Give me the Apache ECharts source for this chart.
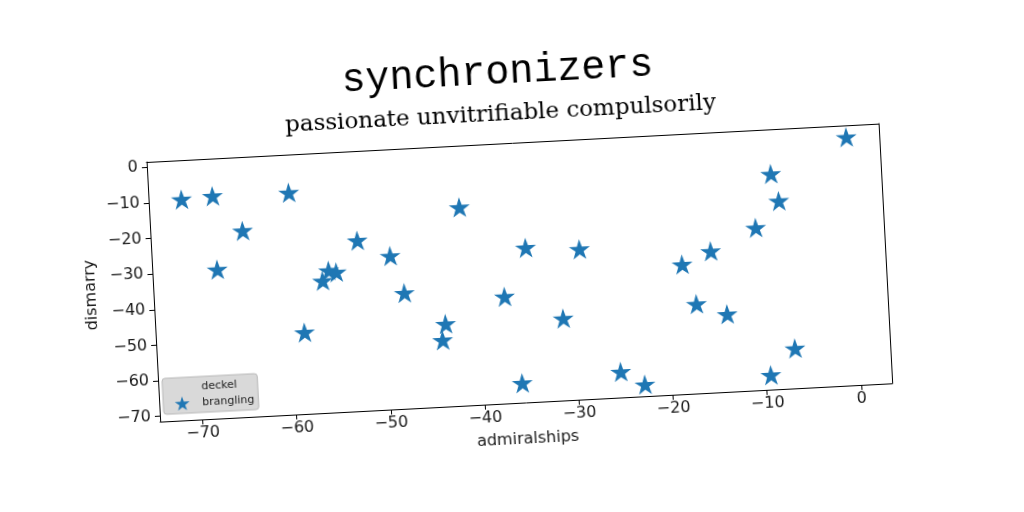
<!DOCTYPE html>
<html>
<head>
<meta charset="utf-8">
<script src="https://cdn.jsdelivr.net/npm/echarts@6/dist/echarts.min.js"></script>
<style>
html,body{margin:0;padding:0;background:#fff;overflow:hidden;}
#chart{width:1024px;height:512px;transform:rotate(-3deg);transform-origin:512px 256px;}
</style>
</head>
<body>
<div id="chart"></div>
<script>
const titleText = 'synchronizers';
const subtitleText = 'passionate unvitrifiable compulsorily';
const xName = 'admiralships';
const yName = 'dismarry';
const seriesNames = ['deckel', 'brangling'];
const xTicks = [-70, -60, -50, -40, -30, -20, -10, 0];
const yTicks = [-70, -60, -50, -40, -30, -20, -10, 0];
const branglingX = [-71.0, -67.7, -59.6, -64.7, -67.6, -55.8, -55.0, -56.5, -58.7, -41.6, -52.6, -49.2, -47.9, -43.7, -44.1, -34.8, -29.1, -37.3, -31.2, -35.9, -25.4, -22.9, -0.2, -8.4, -7.7, -10.3, -15.2, -18.3, -17.0, -13.8, -6.8, -9.5];
const branglingY = [-9.5, -9.0, -9.2, -19.2, -29.7, -31.6, -32.2, -34.4, -48.6, -15.8, -23.6, -28.4, -39.0, -48.3, -52.8, -28.1, -29.3, -41.5, -48.5, -66.0, -64.3, -68.2, -1.8, -11.0, -18.7, -25.9, -31.8, -35.1, -46.4, -49.7, -60.3, -67.4];

// star symbol shape (matplotlib-like '*')
function starPath() {
  const pts = [];
  for (let i = 0; i < 10; i++) {
    const r = i % 2 === 0 ? 1 : 0.381966;
    const a = Math.PI / 2 + i * Math.PI / 5;
    pts.push((r * Math.cos(a)).toFixed(4) + ',' + (-r * Math.sin(a)).toFixed(4));
  }
  return 'path://M' + pts.join('L') + 'Z';
}
const STAR = starPath();
const minus = v => String(v).replace('-', '\u2212');
const X_MIN = -74.5, X_MAX = 3.3, Y_MIN = -71.5, Y_MAX = 1.5;
const labelFont = {fontFamily: 'DejaVu Sans', fontSize: 16, color: '#1a1a1a'};
const frameAxis = {
  axisLine: {show: true, onZero: false, lineStyle: {color: '#000', width: 1}},
  axisTick: {show: false}, axisLabel: {show: false}, splitLine: {show: false}
};

const chart = echarts.init(document.getElementById('chart'), null, {renderer: 'canvas'});
chart.setOption({
  backgroundColor: '#fff',
  animation: false,
  graphic: [
    {type: 'text', x: 507, y: 72, style: {text: titleText, font: '40px "Liberation Mono"', fill: '#000', align: 'center', verticalAlign: 'middle'}},
    {type: 'text', x: 508, y: 114, style: {text: subtitleText, font: '23px "DejaVu Serif"', fill: '#000', align: 'center', verticalAlign: 'middle'}}
  ],
  grid: {left: 152, right: 139, top: 143, bottom: 109, show: false},
  legend: {
    orient: 'vertical', left: 156, top: 360,
    data: [
      {name: seriesNames[0], icon: 'rect', itemStyle: {opacity: 0}},
      {name: seriesNames[1], icon: STAR}
    ],
    itemWidth: 30, itemHeight: 14, itemGap: 2,
    padding: [3, 4, 3, 4],
    backgroundColor: 'rgba(214,214,214,0.92)', borderColor: '#b8b8b8', borderWidth: 1, borderRadius: 3,
    textStyle: {fontFamily: 'DejaVu Sans', fontSize: 11, color: '#222'}
  },
  xAxis: [{
    type: 'value', min: X_MIN, max: X_MAX, position: 'bottom',
    name: xName, nameLocation: 'middle', nameGap: 29,
    nameTextStyle: labelFont,
    axisLine: {show: true, onZero: false, lineStyle: {color: '#000', width: 1}},
    axisTick: {show: true, length: 5, lineStyle: {color: '#000'}, customValues: xTicks},
    axisLabel: Object.assign({show: true, margin: 6, customValues: xTicks, formatter: minus}, labelFont),
    splitLine: {show: false}
  }, Object.assign({type: 'value', min: X_MIN, max: X_MAX, position: 'top'}, frameAxis)],
  yAxis: [{
    type: 'value', min: Y_MIN, max: Y_MAX, position: 'left',
    name: yName, nameLocation: 'middle', nameGap: 53, nameRotate: 90,
    nameTextStyle: labelFont,
    axisLine: {show: true, onZero: false, lineStyle: {color: '#000', width: 1}},
    axisTick: {show: true, length: 5, lineStyle: {color: '#000'}, customValues: yTicks},
    axisLabel: Object.assign({show: true, margin: 9, customValues: yTicks, formatter: minus}, labelFont),
    splitLine: {show: false}
  }, Object.assign({type: 'value', min: Y_MIN, max: Y_MAX, position: 'right'}, frameAxis)],
  series: [
    {name: seriesNames[0], type: 'scatter', data: [], symbolSize: 0, itemStyle: {color: '#ff7f0e'}},
    {name: seriesNames[1], type: 'scatter', symbol: STAR, symbolSize: [21, 20],
     itemStyle: {color: '#1f77b4', opacity: 1},
     data: branglingX.map((x, i) => [x, branglingY[i]])}
  ]
});
</script>
</body>
</html>
